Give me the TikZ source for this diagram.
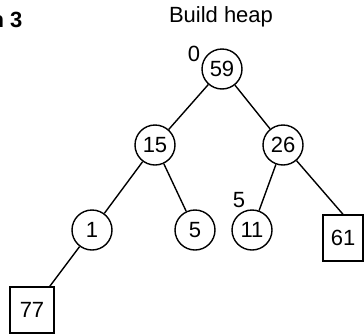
\documentclass[tikz,border=0pt]{standalone}
\usepackage{fontspec}
\setmainfont{Liberation Sans}
\usetikzlibrary{positioning}

\begin{document}
\begin{tikzpicture}[x=1pt,y=-1pt,line width=1.4pt,
  every node/.style={font=\fontsize{22}{26}\selectfont},
  heapnode/.style={draw,circle,minimum size=40pt,inner sep=0pt},
  leafbox/.style={draw,rectangle,minimum width=44pt,minimum height=46pt,inner sep=0pt}]
  \useasboundingbox (0,0) rectangle (364,335);
  \node[anchor=east,inner sep=0pt,font=\fontsize{22}{26}\selectfont\bfseries] (fig) at (23,20) {n 3};
  \node (title) at (221,17) {Build heap};
  % the heap as a tree
  \node[heapnode] (n59) at (222,69) {59};
  \node[heapnode] (n15) at (155,145) {15};
  \node[heapnode] (n26) at (283,145) {26};
  \node[heapnode] (n1) at (92,230) {1};
  \node[heapnode] (n5) at (195,230) {5};
  \node[heapnode] (n11) at (252,230) {11};
  \node[leafbox,minimum width=40pt] (n61) at (343,238) {61};
  \node[leafbox] (n77) at (32,310) {77};
  % array positions
  \node (i0) at (194,54) {0};
  \node (i5) at (239,200) {5};
  \draw (n59) -- (n15); \draw (n59) -- (n26);
  \draw (n15) -- (n1); \draw (n15) -- (n5);
  \draw (n26) -- (n11); \draw (n26) -- (n61.north);
  \draw (n1) -- (n77);
\end{tikzpicture}
\end{document}
